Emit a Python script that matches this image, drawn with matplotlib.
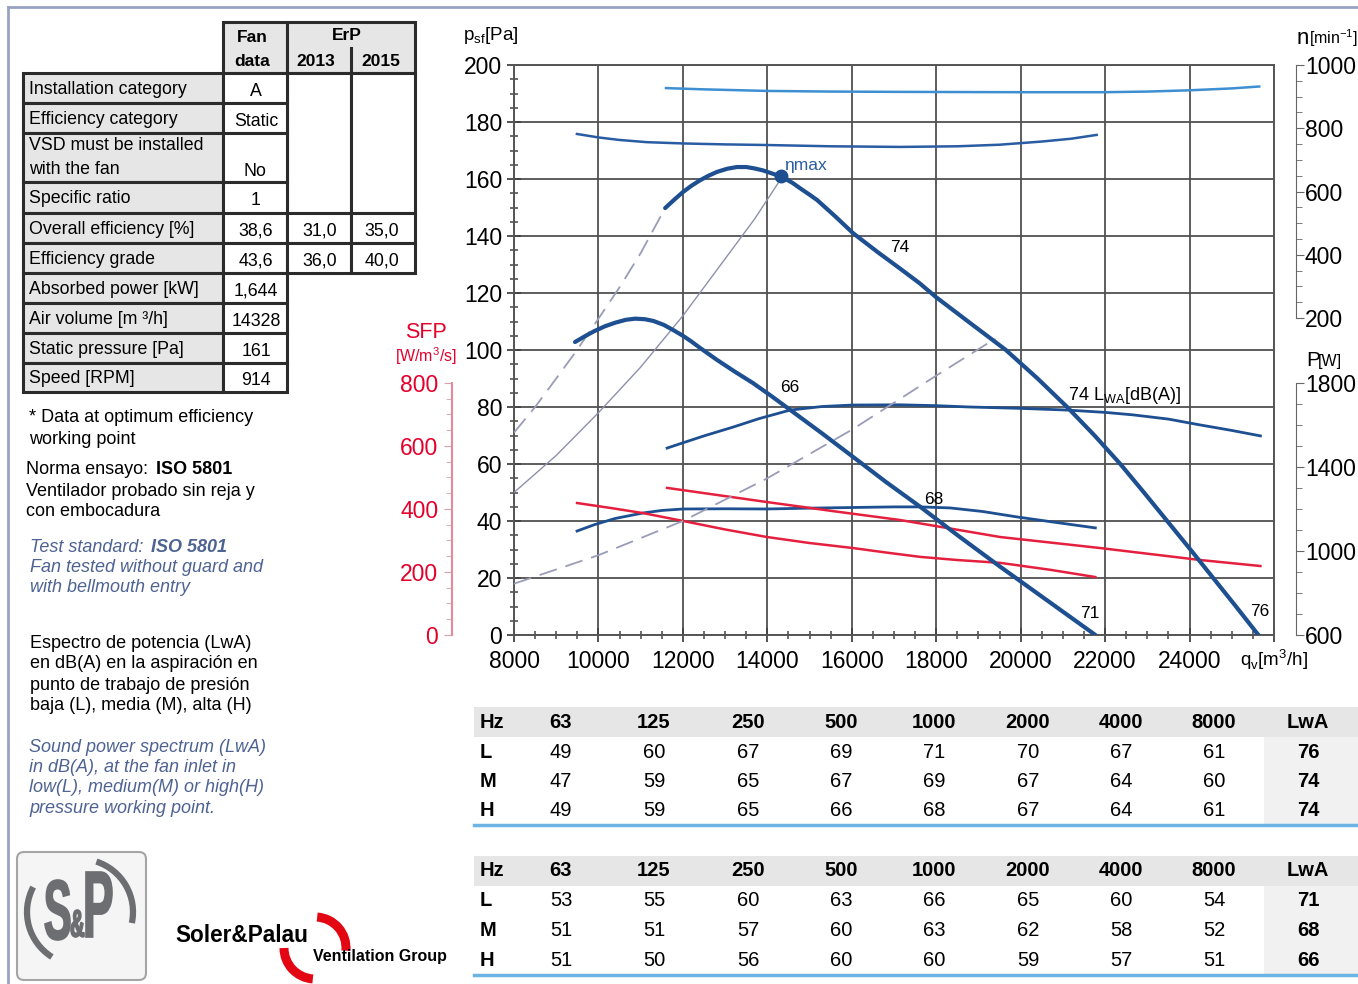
import matplotlib.pyplot as plt
from matplotlib.patches import Rectangle, Arc, FancyBboxPatch, PathPatch
from matplotlib.textpath import TextPath
from matplotlib.font_manager import FontProperties
from matplotlib.transforms import Affine2D
from matplotlib.ticker import FixedLocator

plt.rcParams['font.family'] = ['Liberation Sans', 'DejaVu Sans']
plt.rcParams['mathtext.fontset'] = 'custom'
plt.rcParams['mathtext.rm'] = 'Liberation Sans'

# ---- fan curve data ----
# pressure curves, q [m3/h] / psf [Pa]
q_74 = [11580, 11800, 12000, 12200, 12400, 12600, 12810, 13050, 13280, 13500,
        13700, 13900, 14100, 14350, 14600, 14800, 15000, 15180, 15600, 16030,
        16600, 17150, 17600, 18000, 18800, 19650, 20400, 21100, 21750, 22360,
        22920, 23470, 24020, 24560, 25100, 25630]
p_74 = [149.8, 152.8, 155.4, 157.6, 159.5, 161.1, 162.5, 163.6, 164.2, 164.2,
        163.7, 163.0, 162.0, 160.7, 158.6, 156.5, 154.5, 152.6, 147.0, 141.0,
        134.5, 128.5, 123.5, 118.5, 109.5, 100.0, 90.0, 80.0, 70.0, 60.0,
        50.0, 40.0, 30.0, 20.0, 10.0, 0.0]
q_66 = [9445, 9700, 9900, 10150, 10400, 10650, 10870, 11100, 11300, 11550,
        11770, 12000, 12200, 12400, 12600, 12810, 13230, 13660, 14100, 14540,
        15300, 16030, 16800, 17620, 18550, 19520, 20650, 21770]
p_66 = [102.8, 105.0, 106.6, 108.3, 109.6, 110.6, 111.0, 110.8, 110.2, 108.8,
        107.0, 105.0, 103.0, 100.8, 98.7, 96.5, 92.4, 88.4, 83.8, 79.0,
        70.7, 62.5, 53.8, 45.0, 34.5, 23.9, 11.9, 0.0]

# system curves
q_sys_a = [8000, 8500, 9000, 9445, 10000, 10500, 11000, 11580]
p_sys_a = [71, 80, 90, 99, 111, 122, 134, 149.8]
q_sys_b = [8000, 9000, 10000, 11000, 12000, 13000, 13700, 14350]
p_sys_b = [50, 63, 78, 94, 112, 132, 146, 160.7]
q_sys_c = [8000, 10000, 12000, 14000, 16000, 18000, 19400]
p_sys_c = [18, 28, 40, 55, 72, 91, 104]

# speed [min-1]
q_n74 = [11600, 12500, 14000, 15500, 17150, 20000, 22000, 23000, 24000, 25000, 25650]
n_74 = [927, 923, 918, 916, 915, 914, 914, 916, 920, 926, 932]
q_n66 = [9490, 10000, 10500, 11150, 12000, 13000, 14000, 15500, 17150, 18500,
         19500, 20500, 21200, 21800]
n_66 = [782, 771, 763, 756, 752, 749, 747, 743, 741, 743, 748, 758, 767, 779]

# absorbed power [W]
q_P74 = [11626, 12000, 12500, 13190, 13800, 14540, 15300, 16033, 17147, 18000,
         18735, 20000, 21104, 22000, 22668, 23500, 24256, 25000, 25678]
P_74 = [1490, 1515, 1548, 1590, 1630, 1671, 1688, 1695, 1696, 1692,
        1686, 1679, 1671, 1660, 1648, 1628, 1600, 1574, 1548]
q_P66 = [9493, 9900, 10400, 11057, 11500, 12005, 13000, 13995, 15000, 16000,
         17000, 17621, 18332, 19100, 19919, 20800, 21768]
P_66 = [1095, 1125, 1155, 1181, 1193, 1200, 1201, 1200, 1204, 1207,
        1210, 1210, 1205, 1188, 1162, 1137, 1110]

# SFP [W/m3/s]
q_S74 = [11626, 13995, 15570, 17147, 19517, 21886, 24256, 25678]
S_74 = [467, 422, 393, 365, 311, 276, 238, 219]
q_S66 = [9493, 10300, 11057, 12005, 13000, 13995, 15000, 16033, 16800, 17621,
         18500, 19517, 20700, 21768]
S_66 = [419, 403, 387, 362, 335, 311, 292, 276, 262, 248, 238, 229, 207, 184]

eta_q, eta_p = 14328, 161

# ---- tables ----
fan_labels = ['Installation category', 'Efficiency category', 'VSD must be installed\nwith the fan',
              'Specific ratio', 'Overall efficiency [%]', 'Efficiency grade',
              'Absorbed power [kW]', 'Air volume [m \u00b3/h]', 'Static pressure [Pa]', 'Speed [RPM]']
fan_values = ['A', 'Static', 'No', '1', '38,6', '43,6', '1,644', '14328', '161', '914']
erp_2013 = ['31,0', '36,0']
erp_2015 = ['35,0', '40,0']

hz_bands = ['63', '125', '250', '500', '1000', '2000', '4000', '8000']
rows_lmh = ['L', 'M', 'H']
spec_a_L = [49, 60, 67, 69, 71, 70, 67, 61]
spec_a_M = [47, 59, 65, 67, 69, 67, 64, 60]
spec_a_H = [49, 59, 65, 66, 68, 67, 64, 61]
spec_a_lwa = [76, 74, 74]
spec_b_L = [53, 55, 60, 63, 66, 65, 60, 54]
spec_b_M = [51, 51, 57, 60, 63, 62, 58, 52]
spec_b_H = [51, 50, 56, 60, 60, 59, 57, 51]
spec_b_lwa = [71, 68, 66]

W, H = 1358, 984
fig = plt.figure(figsize=(W / 100, H / 100), dpi=100)

page = fig.add_axes([0, 0, 1, 1])
page.set_xlim(0, W)
page.set_ylim(H, 0)
page.axis('off')


def px_box(x0, y0, x1, y1):
    return [x0 / W, 1 - y1 / H, (x1 - x0) / W, (y1 - y0) / H]


def hide_spines(a, keep=()):
    for name, sp in a.spines.items():
        sp.set_visible(name in keep)


# page frame
page.plot([8, W], [7, 7], color='#98a2c2', lw=2)
page.plot([8, 8], [7, H], color='#98a2c2', lw=2)

# ---- main chart ----
BLUE = '#1d4f91'
ax = fig.add_axes(px_box(514, 65, 1274, 635))
ax.set_xlim(8000, 26000)
ax.set_ylim(0, 200)
ax.set_xticks(range(8000, 26001, 2000))
ax.set_xticklabels([str(v) for v in range(8000, 24001, 2000)] + [''])
ax.xaxis.set_minor_locator(FixedLocator([v for v in range(8000, 26001, 500) if v % 2000]))
ax.set_yticks(range(0, 201, 20))
ax.yaxis.set_minor_locator(FixedLocator([v for v in range(0, 201, 5) if v % 20]))
ax.grid(True, which='major', color='#505050', lw=1.3)
ax.set_axisbelow(True)
ax.tick_params(which='major', direction='inout', length=10, width=1.3, color='#444',
               labelsize=16.5)
ax.tick_params(axis='y', which='major', pad=3.5)
ax.tick_params(axis='x', which='major', pad=5.5)
ax.tick_params(which='minor', direction='inout', length=6, width=1.1, color='#444')
for sp in ax.spines.values():
    sp.set_color('#555555')
    sp.set_linewidth(1.4)

# speed axis (right, upper)
ax_n = ax.twinx()
ax_n.set_ylim(-802, 1000)
hide_spines(ax_n, ('right',))
ax_n.spines['right'].set_position(('outward', 15.8))
ax_n.spines['right'].set_bounds(200, 1000)
ax_n.spines['right'].set_color('#666666')
ax_n.set_yticks(range(200, 1001, 200))
ax_n.yaxis.set_minor_locator(FixedLocator([v for v in range(200, 1001, 50) if v % 200]))
ax_n.tick_params(which='major', direction='out', length=6, color='#666', labelsize=16.5, pad=0.5)
ax_n.tick_params(which='minor', direction='out', length=4, color='#666')
ax_n.plot(q_n74, n_74, color='#3d8fd1', lw=1.8)
ax_n.plot(q_n66, n_66, color='#2a5ca3', lw=1.8)

# power axis (right, lower)
ax_P = ax.twinx()
ax_P.set_ylim(600, 3314)
hide_spines(ax_P, ('right',))
ax_P.spines['right'].set_position(('outward', 15.8))
ax_P.spines['right'].set_bounds(600, 1800)
ax_P.spines['right'].set_color('#666666')
ax_P.set_yticks(range(600, 1801, 400))
ax_P.yaxis.set_minor_locator(FixedLocator([v for v in range(600, 1801, 100) if (v - 600) % 400]))
ax_P.tick_params(which='major', direction='out', length=6, color='#666', labelsize=16.5, pad=0.5)
ax_P.tick_params(which='minor', direction='out', length=4, color='#666')
ax_P.plot(q_P74, P_74, color=BLUE, lw=2)
ax_P.plot(q_P66, P_66, color=BLUE, lw=2)

# SFP axis (left, red)
RED = '#e4002b'
ax_s = ax.twinx()
ax_s.set_ylim(0, 1809.5)
hide_spines(ax_s, ('left',))
ax_s.yaxis.set_ticks_position('left')
ax_s.spines['left'].set_position(('outward', 44.6))
ax_s.spines['left'].set_bounds(0, 800)
ax_s.spines['left'].set_color('#e58a9a')
ax_s.spines['left'].set_linewidth(1.5)
ax_s.set_yticks(range(0, 801, 200))
ax_s.yaxis.set_minor_locator(FixedLocator([v for v in range(0, 801, 50) if v % 200]))
ax_s.tick_params(which='major', direction='out', length=6, color='#d8a0aa',
                 labelsize=16.5, labelcolor=RED, pad=4)
ax_s.tick_params(which='minor', direction='out', length=4, color='#d8a0aa')
ax_s.plot(q_S74, S_74, color='#e4203e', lw=1.8)
ax_s.plot(q_S66, S_66, color='#e4203e', lw=1.8)

# pressure curves on top
ax_p = ax.twinx()
ax_p.set_ylim(0, 200)
hide_spines(ax_p)
ax_p.set_yticks([])
ax_p.plot(q_sys_a, p_sys_a, color='#9a9cb8', lw=1.3, dashes=(10, 5))
ax_p.plot(q_sys_b, p_sys_b, color='#8e90ad', lw=1.0)
ax_p.plot(q_sys_c, p_sys_c, color='#9a9cb8', lw=1.3, dashes=(10, 5))
ax_p.plot(q_74, p_74, color=BLUE, lw=3, solid_capstyle='round')
ax_p.plot(q_66, p_66, color=BLUE, lw=3, solid_capstyle='round')
ax_p.plot([eta_q], [eta_p], 'o', ms=9, color=BLUE)
ax_p.text(14395, 164.6, '\u03b7max', color='#2a5ca3', fontsize=12.5, va='center', ha='left')
ax_p.text(17142, 136.1, '74', fontsize=12.5, ha='center', va='center')
ax_p.text(14537, 86.7, '66', fontsize=12.5, ha='center', va='center')
ax_p.text(17948, 47.7, '68', fontsize=12.5, ha='center', va='center')
ax_p.text(21643, 7.7, '71', fontsize=12.5, ha='center', va='center')
ax_p.text(25670, 8.4, '76', fontsize=12.5, ha='center', va='center')
ax_p.text(21122, 83.9, r'74 L$_\mathregular{WA}$[dB(A)]', fontsize=13, ha='left', va='center')

# axis titles
page.text(463, 35, r'p$_\mathregular{sf}$[Pa]', fontsize=13.5, va='center', ha='left')
page.text(1240, 660, r'q$_\mathregular{v}$[m$^\mathregular{3}$/h]', fontsize=13.5, va='center', ha='left')
page.text(1297, 44, 'n', fontsize=16, va='baseline', ha='left')
page.text(1309, 44, r'[min$^\mathregular{-1}$]', fontsize=11.5, va='baseline', ha='left')
page.text(1306, 366, 'P', fontsize=15, va='baseline', ha='left')
page.text(1318, 366, '[W]', fontsize=11.5, va='baseline', ha='left')
page.text(426, 333, 'SFP', fontsize=15.5, color=RED, ha='center', va='center')
page.text(426, 356, r'[W/m$^\mathregular{3}$/s]', fontsize=11.5, color=RED, ha='center', va='center')

# ---- fan data table ----
EDGE = '#2b2b2b'
GREY = '#e6e6e6'
row_y = [73, 103, 133, 182, 213, 243, 273, 303, 333, 363, 392]


def cell(x0, y0, x1, y1, fc):
    page.add_patch(Rectangle((x0, y0), x1 - x0, y1 - y0, facecolor=fc,
                             edgecolor=EDGE, lw=2.2, zorder=2))


cell(223, 22, 287, 73, GREY)
cell(287, 22, 415, 73, GREY)
page.plot([351, 351], [48, 73], color=EDGE, lw=2.2, zorder=3)
page.text(252, 37, 'Fan', fontsize=12.5, fontweight='bold', ha='center', va='center', zorder=4)
page.text(252, 62, 'data', fontsize=12.5, fontweight='bold', ha='center', va='center', zorder=4)
page.text(347, 36, 'ErP', fontsize=12.5, fontweight='bold', ha='center', va='center', zorder=4)
page.text(316, 61, '2013', fontsize=12.5, fontweight='bold', ha='center', va='center', zorder=4)
page.text(381, 61, '2015', fontsize=12.5, fontweight='bold', ha='center', va='center', zorder=4)

cell(287, 73, 351, 213, 'white')
cell(351, 73, 415, 213, 'white')
for i, (lab, val) in enumerate(zip(fan_labels, fan_values)):
    y0, y1 = row_y[i], row_y[i + 1]
    cell(23, y0, 223, y1, GREY)
    cell(223, y0, 287, y1, 'white')
    if '\n' in lab:
        l1, l2 = lab.split('\n')
        page.text(29, y0 + 13, l1, fontsize=12.8, va='center', ha='left', zorder=4)
        page.text(29, y0 + 37, l2, fontsize=12.8, va='center', ha='left', zorder=4)
        page.text(255, y1 - 11, val, fontsize=12.8, va='center', ha='center', zorder=4)
    else:
        page.text(29, (y0 + y1) / 2 + 1, lab, fontsize=12.8, va='center', ha='left', zorder=4)
        page.text(256, (y0 + y1) / 2 + 3, val, fontsize=12.8, va='center', ha='center', zorder=4)
for j in range(2):
    y0, y1 = row_y[4 + j], row_y[5 + j]
    cell(287, y0, 351, y1, 'white')
    cell(351, y0, 415, y1, 'white')
    page.text(320, (y0 + y1) / 2 + 3, erp_2013[j], fontsize=12.8, va='center', ha='center', zorder=4)
    page.text(382, (y0 + y1) / 2 + 3, erp_2015[j], fontsize=12.8, va='center', ha='center', zorder=4)

# ---- notes ----
SLATE = '#4e6392'
fs = 13
page.text(29, 417, '* Data at optimum efficiency', fontsize=fs, va='center')
page.text(29, 440, 'working point', fontsize=fs, va='center')
page.text(26, 470, 'Norma ensayo:', fontsize=fs, va='center')
page.text(156, 470, 'ISO 5801', fontsize=fs, fontweight='bold', va='center')
page.text(26, 491, 'Ventilador probado sin reja y', fontsize=fs, va='center')
page.text(26, 512, 'con embocadura', fontsize=fs, va='center')
page.text(30, 547, 'Test standard:', fontsize=fs, style='italic', color=SLATE, va='center')
page.text(151, 547, 'ISO 5801', fontsize=fs, style='italic', fontweight='bold', color=SLATE, va='center')
page.text(30, 567, 'Fan tested without guard and', fontsize=fs, style='italic', color=SLATE, va='center')
page.text(30, 587, 'with bellmouth entry', fontsize=fs, style='italic', color=SLATE, va='center')
for k, line in enumerate(['Espectro de potencia (LwA)', 'en dB(A) en la aspiraci\u00f3n en',
                          'punto de trabajo de presi\u00f3n', 'baja (L), media (M), alta (H)']):
    page.text(30, 643 + 21 * k, line, fontsize=fs, va='center')
for k, line in enumerate(['Sound power spectrum (LwA)', 'in dB(A), at the fan inlet in',
                          'low(L), medium(M) or high(H)', 'pressure working point.']):
    page.text(29, 747 + 20.5 * k, line, fontsize=fs, style='italic', color=SLATE, va='center')

# ---- sound spectrum tables ----
col_x = [561, 654, 748, 841, 934, 1028, 1121, 1214]


def spectrum_table(y_head, vals, lwa, y_line):
    page.add_patch(Rectangle((474, y_head - 15), W - 474, 30, fc='#e6e6e6', ec='none'))
    page.add_patch(Rectangle((1264, y_head + 15), W - 1264, y_line - y_head - 15,
                             fc='#f1f1f1', ec='none'))
    page.text(480, y_head, 'Hz', fontsize=14.5, fontweight='bold', va='center')
    for x, hz in zip(col_x, hz_bands):
        page.text(x, y_head, hz, fontsize=14.5, fontweight='bold', va='center', ha='center')
    page.text(1308, y_head, 'LwA', fontsize=14.5, fontweight='bold', va='center', ha='center')
    for r, (name, row) in enumerate(zip(rows_lmh, vals)):
        y = y_head + 30 + 29.5 * r
        page.text(480, y, name, fontsize=14.5, fontweight='bold', va='center')
        for x, v in zip(col_x, row):
            page.text(x, y, str(v), fontsize=14.5, va='center', ha='center')
        page.text(1308, y, str(lwa[r]), fontsize=14.5, fontweight='bold',
                  va='center', ha='center')
    page.plot([474, W], [y_line, y_line], color='#6cb4e4', lw=2.5)


spectrum_table(722, [spec_a_L, spec_a_M, spec_a_H], spec_a_lwa, 825)
spectrum_table(871, [spec_b_L, spec_b_M, spec_b_H], spec_b_lwa, 975)

# ---- logos ----
LOGO_GREY = '#6d6e71'
page.add_patch(FancyBboxPatch((17, 852), 129, 128, boxstyle='round,pad=0,rounding_size=7',
                              fc='#f5f5f5', ec='#a5a5a5', lw=1.5))
bold_fp = FontProperties(family='Liberation Sans', weight='bold')


def glyph(s, x0, y_base, w, h):
    tp = TextPath((0, 0), s, size=100, prop=bold_fp)
    bb = tp.get_extents()
    tr = Affine2D().translate(-bb.x0, -bb.y0).scale(w / bb.width, -h / bb.height).translate(x0, y_base)
    page.add_patch(PathPatch(tr.transform_path(tp), fc=LOGO_GREY, ec=LOGO_GREY, lw=1.2))


glyph('S', 45, 940, 25, 60)
glyph('&', 71, 937, 13, 27)
glyph('P', 86, 937, 26, 65)
page.add_patch(Arc((80, 912), 106, 106, theta1=122, theta2=208, color=LOGO_GREY, lw=4.5))
page.add_patch(Arc((80, 912), 106, 106, theta1=-72, theta2=12, color=LOGO_GREY, lw=4.5))

page.add_patch(Arc((315, 948), 62, 62, theta1=-86, theta2=5, color='#e30613', lw=6.5))
page.add_patch(Arc((315, 948), 62, 62, theta1=94, theta2=180, color='#e30613', lw=6.5))
page.text(175, 935, 'Soler&Palau', fontsize=16.3, fontweight='bold', va='center', zorder=5)
page.text(313, 957, 'Ventilation Group', fontsize=11.5, fontweight='bold', va='center', zorder=5)

fig.savefig('out.png', dpi=100)
